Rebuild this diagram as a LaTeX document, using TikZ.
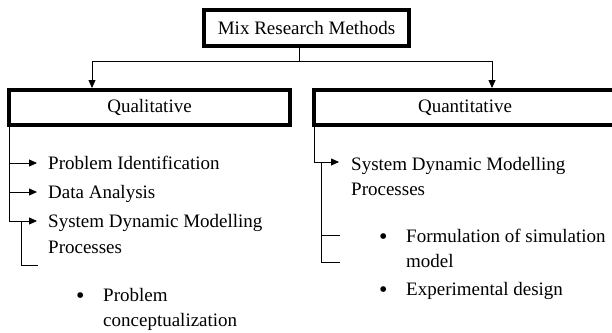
\documentclass[tikz,border=0pt]{standalone}
\usepackage{fontspec}
\setmainfont{Liberation Serif}
\usetikzlibrary{arrows.meta}

\begin{document}
\begin{tikzpicture}[x=1pt, y=-1pt,
    every node/.style = {font=\fontsize{19}{25}\selectfont},
    box/.style = {draw, line width=3.5pt, inner sep=0pt, outer sep=0pt},
    item/.style = {anchor=base west, inner sep=0pt},
    dot/.style = {item, font=\fontsize{24}{25}\selectfont},
    link/.style = {line width=0.8pt},
    arr/.style = {link, -{Triangle[length=8pt,width=7pt]}}
  ]
  \useasboundingbox (0,0) rectangle (612,332);
  \clip (0,0) rectangle (612,332);
  % boxes
  \node[box, minimum width=205pt, minimum height=36pt] (mix) at (306.5,28) {Mix Research Methods};
  \node[box, minimum width=281pt, minimum height=35pt] (qual) at (149.5,107.5) {Qualitative};
  \node[box, minimum width=302pt, minimum height=35pt] (quant) at (465,107.5) {Quantitative};

  % top connectors
  \coordinate (j) at (299,61);
  \coordinate (ja) at (92,61);
  \coordinate (jb) at (492,61);
  \draw[link] (mix.south -| j) -- (j);
  \draw[arr, shorten >=2pt] (j) -- (ja) -- (ja |- qual.north);
  \draw[arr, shorten >=2pt] (j) -- (jb) -- (jb |- quant.north);

  % qualitative side
  \node[item] (pid) at (48,169) {Problem Identification};
  \node[item] (da) at (48,198) {Data Analysis};
  \node[item] (sdm) at (48,227) {System Dynamic Modelling};
  \node[item] (sdmb) at ([yshift=-26pt]sdm.base west) {Processes};
  \coordinate (q1) at (9,163);
  \coordinate (q2) at (9,192);
  \coordinate (q3) at (9,221);
  \draw[link] (qual.south west) -- (q3);
  \foreach \c/\t in {q1/pid, q2/da, q3/sdm}
    \draw[arr, shorten >=11pt] (\c) -- (\c -| \t.west);
  \coordinate (q4) at (21,265);
  \coordinate (q5) at (38,265);
  \draw[link] (q3 -| q4) -- (q4) -- (q5);
  \node[dot] (bl) at (76,303) {\textbullet};
  \node[item] (pc) at (103,301) {Problem};
  \node[item] (pcb) at ([yshift=-25pt]pc.base west) {conceptualization};

  % quantitative side
  \node[item] (rsdm) at (351,170) {System Dynamic Modelling};
  \node[item] (rsdmb) at ([yshift=-25pt]rsdm.base west) {Processes};
  \coordinate (r1) at (314,162);
  \draw[link] (quant.south west) -- (r1);
  \draw[arr, shorten >=12pt] (r1) -- (r1 -| rsdm.west);
  \coordinate (r2) at (321,235);
  \coordinate (r3) at (321,262);
  \coordinate (r4) at (340,235);
  \coordinate (r5) at (340,262);
  \draw[link] (r1 -| r2) -- (r3) -- (r5);
  \draw[link] (r2) -- (r4);
  \node[dot] (br1) at (379,244) {\textbullet};
  \node[item] (fs) at (406,242) {Formulation of simulation};
  \node[item] (fsb) at ([yshift=-25pt]fs.base west) {model};
  \node[dot] (br2) at (379,297) {\textbullet};
  \node[item] (ed) at (406,295) {Experimental design};
\end{tikzpicture}
\end{document}
